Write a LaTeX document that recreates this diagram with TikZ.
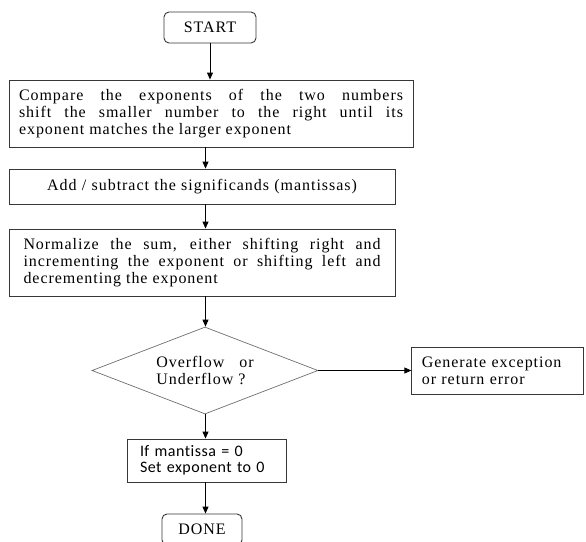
\documentclass[tikz,border=0pt]{standalone}
\usepackage{fontspec}
\setmainfont{Liberation Serif}[LetterSpace=6]
\newfontfamily\calfont{Carlito}[Ligatures=NoCommon, LetterSpace=3]
\usetikzlibrary{positioning,arrows.meta,shapes.geometric}
\definecolor{LineGray}{RGB}{55,55,55}
\definecolor{DiaGray}{RGB}{110,110,110}

\begin{document}
\begin{tikzpicture}[
    x=1pt, y=-1pt,
    node distance=93pt,
    term/.style={rectangle, rounded corners=5pt, draw=LineGray, line width=0.9pt,
        minimum width=92pt, minimum height=31pt, font=\fontsize{16}{17}\selectfont},
    block/.style={rectangle, draw=LineGray, line width=0.9pt, inner xsep=10pt,
        font=\fontsize{16}{17}\selectfont, align=justify},
    decision/.style={diamond, aspect=2.6, draw=DiaGray, line width=0.7pt, inner sep=0pt,
        minimum width=226pt, minimum height=87pt, font=\fontsize{16}{17.5}\selectfont, align=left},
    flow/.style={-{Triangle[length=7pt, width=6pt]}, line width=0.9pt, black},
]
\useasboundingbox (0,0) rectangle (586,541);
\coordinate (axis) at (205.5,0);

\node[term] (start) at (210,27.5) {START};
\node[block, text width=384pt, minimum height=67pt] (cmp) at (211,113.5)
    {Compare the exponents of the two numbers\linebreak shift the smaller number to the right until its\linebreak exponent matches the larger exponent};
\node[block, text width=366pt, minimum height=35pt, align=center] (add) at (202,186.5)
    {Add / subtract the significands (mantissas)};
\node[block, text width=357pt, inner xsep=14.5pt, minimum height=67pt] (norm) at (202,262.5)
    {Normalize the sum, either shifting right and\linebreak incrementing the exponent or shifting left and\linebreak decrementing the exponent};
\node[decision] (ovf) at (205,370.5) {Overflow\ \ \ or\\Underflow ?};
\node[block, right=93pt of ovf, text width=152pt, minimum height=47pt, align=left] (exc)
    {Generate exception\\or return error};
\node[block, text width=133pt, inner xsep=13pt, minimum height=43pt, align=left,
    font=\calfont\fontsize{16}{16.5}\selectfont] (mant) at (206.5,460.5)
    {If mantissa = 0\\Set exponent to 0};
\node[term, minimum width=80pt] (done) at (202,529.5) {DONE};

\draw[flow] (start.south) -- (start.south |- cmp.north);
\draw[flow] (cmp.south -| axis) -- (add.north -| axis);
\draw[flow] (add.south -| axis) -- (norm.north -| axis);
\draw[flow] (norm.south -| axis) -- (ovf.north -| axis);
\draw[flow] (ovf.east) -- (exc.west);
\draw[flow] (ovf.south -| axis) -- (mant.north -| axis);
\draw[flow] (mant.south -| axis) -- (done.north -| axis);
\end{tikzpicture}
\end{document}
